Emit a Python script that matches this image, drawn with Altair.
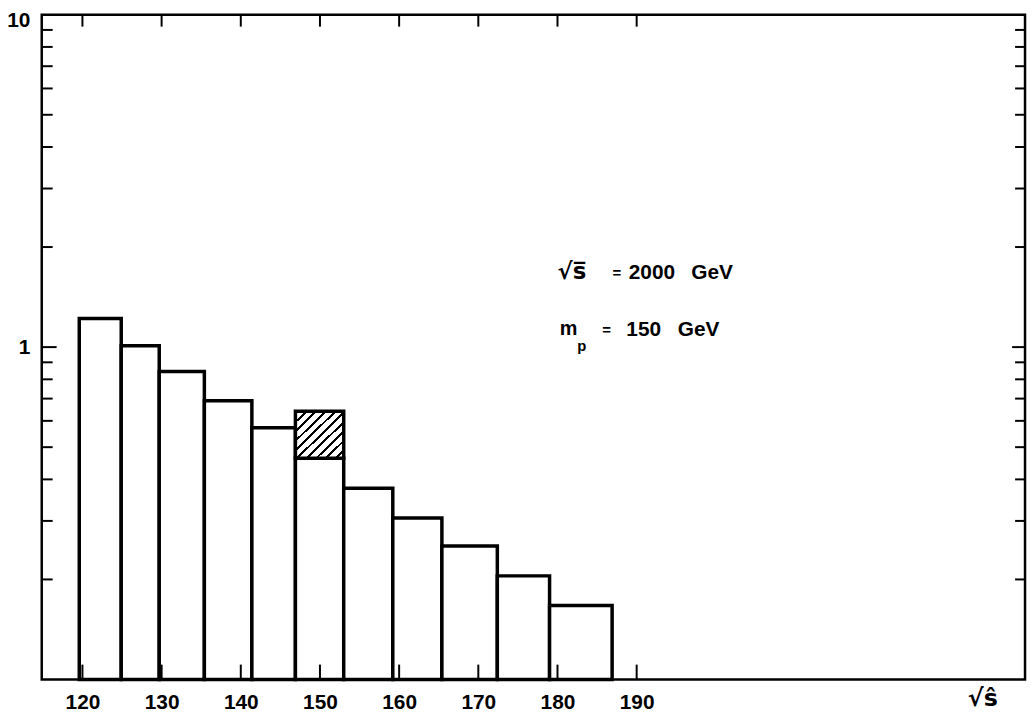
import altair as alt
import pandas as pd

# ---- data ----
bin_edges = [119.6, 124.9, 129.7, 135.4, 141.4, 146.9, 153.0, 159.2, 165.4, 172.4, 179.0, 186.9]
bar_values = [1.22, 1.01, 0.845, 0.69, 0.572, 0.463, 0.376, 0.306, 0.252, 0.205, 0.167]
hatch_bin = 5          # index of the bin with the hatched excess
hatch_top = 0.641
y_floor = 0.1
y_ceiling = 10

x_tick_values = [120, 130, 140, 150, 160, 170, 180, 190]
y_major_ticks = [1]
y_minor_ticks = [0.2, 0.3, 0.4, 0.5, 0.6, 0.7, 0.8, 0.9, 2, 3, 4, 5, 6, 7, 8, 9]
y_label_values = [1, 10]

# annotation texts and their anchor points (chart units)
ann_root_text = ["√s̅"]
ann_root_x = [180.0]
ann_root_y = [1.68]
ann_left_text = ["2000", "GeV", "150", "GeV"]
ann_left_x = [189.0, 196.9, 188.7, 195.2]
ann_left_y = [1.669, 1.669, 1.124, 1.124]
ann_m_text = ["m"]
ann_m_x = [180.3]
ann_m_y = [1.13]
ann_sub_text = ["p"]
ann_sub_x = [182.5]
ann_sub_y = [1.007]
ann_eq_text = ["=", "="]
ann_eq_x = [187.5, 186.2]
ann_eq_y = [1.669, 1.124]

X_DOMAIN = [114.86, 239.05]
W, H = 991, 670
FONT = "Liberation Sans"
SYM_FONT = "DejaVu Sans"

bars = pd.DataFrame({
    "lo": bin_edges[:-1],
    "hi": bin_edges[1:],
    "v": bar_values,
    "floor": [y_floor] * len(bar_values),
})
hatch = pd.DataFrame({
    "lo": [bin_edges[hatch_bin]],
    "hi": [bin_edges[hatch_bin + 1]],
    "v": [bar_values[hatch_bin]],
    "top": [hatch_top],
})

xs = alt.Scale(domain=X_DOMAIN, nice=False, zero=False)
ys = alt.Scale(type="log", domain=[y_floor, y_ceiling], nice=False)

x_axis = alt.Axis(values=x_tick_values, ticks=False, domain=False, grid=False,
                  labelFontSize=21, labelFontWeight="bold", labelPadding=12,
                  labelColor="black", labelFont=FONT, labelFlush=False,
                  title="√ŝ", titleFontSize=24, titleFontWeight="bold", titleFont=SYM_FONT,
                  titleX=948, titleY=19, titleAlign="center", titleBaseline="middle",
                  titleColor="black")
y_axis = alt.Axis(values=y_label_values, ticks=False, domain=False, grid=False,
                  labelFontSize=21, labelFontWeight="bold", labelPadding=12,
                  labelColor="black", labelFont=FONT, labelFlush=False,
                  labelBaseline="middle",
                  labelOffset={"condition": {"test": "datum.value == 10", "value": 6}, "value": 0},
                  title="")

bar_layer = alt.Chart(bars).mark_rect(fill="white", stroke="black", strokeWidth=3.5).encode(
    x=alt.X("lo:Q", scale=xs, axis=x_axis),
    x2="hi:Q",
    y=alt.Y("v:Q", scale=ys, axis=y_axis),
    y2="floor:Q",
)

# diagonal hatching via a striped linear gradient
N = 10
stops = []
for i in range(N):
    a = i / N
    b = (i + 0.3) / N
    c = (i + 1) / N
    stops += [alt.GradientStop(color="black", offset=a),
              alt.GradientStop(color="black", offset=b),
              alt.GradientStop(color="white", offset=b),
              alt.GradientStop(color="white", offset=c)]
grad = alt.LinearGradient(gradient="linear", stops=stops, x1=0, y1=0, x2=1, y2=1)

hatch_layer = alt.Chart(hatch).mark_rect(fill=grad, stroke="black", strokeWidth=3.5).encode(
    x="lo:Q", x2="hi:Q", y="v:Q", y2="top:Q",
)

# inward ticks on all four sides
bottom_ticks = alt.Chart(pd.DataFrame({"t": x_tick_values})).mark_rule(
    color="black", strokeWidth=2).encode(x="t:Q", y=alt.value(H), y2=alt.value(H - 15))
top_ticks = alt.Chart(pd.DataFrame({"t": x_tick_values})).mark_rule(
    color="black", strokeWidth=2).encode(x="t:Q", y=alt.value(0), y2=alt.value(12))
left_major = alt.Chart(pd.DataFrame({"t": y_major_ticks})).mark_rule(
    color="black", strokeWidth=2).encode(y="t:Q", x=alt.value(0), x2=alt.value(15))
left_minor = alt.Chart(pd.DataFrame({"t": y_minor_ticks})).mark_rule(
    color="black", strokeWidth=2).encode(y="t:Q", x=alt.value(0), x2=alt.value(11))
right_major = alt.Chart(pd.DataFrame({"t": y_major_ticks})).mark_rule(
    color="black", strokeWidth=2).encode(y="t:Q", x=alt.value(W), x2=alt.value(W - 13))
right_minor = alt.Chart(pd.DataFrame({"t": y_minor_ticks})).mark_rule(
    color="black", strokeWidth=2).encode(y="t:Q", x=alt.value(W), x2=alt.value(W - 10))

# annotations
def text_layer(texts, xv, yv, size, align="left", font=FONT, weight="bold"):
    df = pd.DataFrame({"t": texts, "x": xv, "y": yv})
    return alt.Chart(df).mark_text(
        align=align, baseline="middle", fontSize=size, font=font,
        fontWeight=weight, color="black").encode(x="x:Q", y="y:Q", text="t:N")

ann_root = text_layer(ann_root_text, ann_root_x, ann_root_y, 23, font=SYM_FONT)
ann_left = text_layer(ann_left_text, ann_left_x, ann_left_y, 21)
ann_m = text_layer(ann_m_text, ann_m_x, ann_m_y, 20)
ann_sub = text_layer(ann_sub_text, ann_sub_x, ann_sub_y, 15)
ann_eq = text_layer(ann_eq_text, ann_eq_x, ann_eq_y, 15, align="center")

chart = alt.layer(
    bar_layer, hatch_layer,
    bottom_ticks, top_ticks, left_major, left_minor, right_major, right_minor,
    ann_root, ann_left, ann_m, ann_sub, ann_eq,
).properties(
    width=W, height=H,
    autosize=alt.AutoSizeParams(type="none"),
    padding={"left": 34, "top": 4, "right": 3, "bottom": 32},
).configure(
    background="white", font=FONT,
    view=alt.ViewConfig(stroke="black", strokeWidth=2.5),
)

chart.save("out.html", embed_options={"renderer": "svg", "actions": False})
